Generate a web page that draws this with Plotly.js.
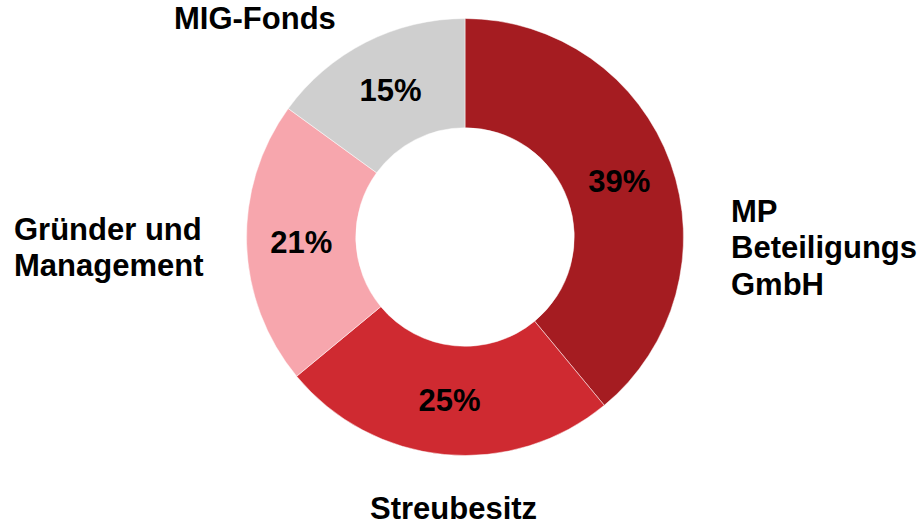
<!DOCTYPE html>
<html>
<head>
<meta charset="utf-8">
<script src="https://cdn.plot.ly/plotly-3.0.1.min.js"></script>
<style>html,body{margin:0;padding:0;background:#fff;}#chart{width:922px;height:527px;}</style>
</head>
<body>
<div id="chart"></div>
<script>
// Data
const categories = ["MP Beteiligungs GmbH", "Streubesitz", "Gründer und Management", "MIG-Fonds"];
const shares = [39, 25, 21, 15];
const colors = ["#A51C21", "#CF2A31", "#F7A6AD", "#CFCFCF"];
// Label lines as shown outside the ring
const labelLines = [["MP", "Beteiligungs", "GmbH"], ["Streubesitz"], ["Gründer und", "Management"], ["MIG-Fonds"]];

const W = 922, H = 527;
const px = x => x / W;
const py = y => 1 - y / H;
const FONT = "Liberation Sans, Arial, sans-serif";

// label placement (pixel anchors of first line, alignment)
const labelPos = [
  {x: 729, y: 211, anchor: "left"},
  {x: 453, y: 508, anchor: "center"},
  {x: 12, y: 229, anchor: "left"},
  {x: 255, y: 18, anchor: "center"}
];
const LINE = 36.5;

const annotations = [];
labelLines.forEach((lines, i) => {
  lines.forEach((t, j) => {
    annotations.push({
      text: t, xref: "paper", yref: "paper",
      x: px(labelPos[i].x), y: py(labelPos[i].y + j * LINE),
      xanchor: labelPos[i].anchor, yanchor: "middle",
      showarrow: false,
      font: {family: FONT, size: 31, color: "#000", weight: "bold"}
    });
  });
});

const trace = {
  type: "pie",
  labels: categories,
  values: shares,
  sort: false,
  direction: "clockwise",
  rotation: 0,
  hole: 0.5,
  marker: {colors: colors, line: {color: "#ffffff", width: 0.5}},
  texttemplate: "%{value}%",
  textposition: "inside",
  insidetextorientation: "horizontal",
  textfont: {family: FONT, size: 31, color: "#000", weight: "bold"},
  domain: {x: [246.5 / W, 683.5 / W], y: [(H - 237 - 218.5) / H, (H - 237 + 218.5) / H]},
  showlegend: false,
  hoverinfo: "label+percent"
};

Plotly.newPlot("chart", [trace], {
  width: W, height: H,
  margin: {l: 0, r: 0, t: 0, b: 0},
  paper_bgcolor: "#fff",
  showlegend: false,
  annotations: annotations
}, {displayModeBar: false, staticPlot: true});
</script>
</body>
</html>
